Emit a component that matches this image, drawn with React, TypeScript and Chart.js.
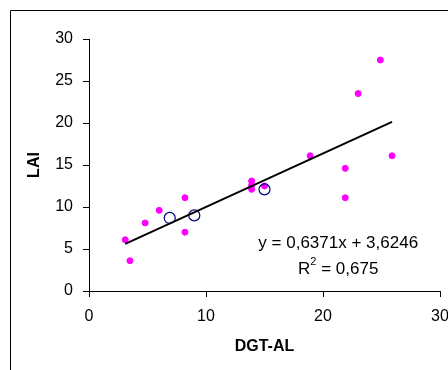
import React, { useEffect, useRef } from "react";
import { Chart, registerables } from "chart.js";

Chart.register(...registerables);

const measuredX = [3.1, 3.5, 4.8, 6.0, 8.2, 8.2, 13.9, 13.9, 13.9, 15.0, 18.9, 21.9, 21.9, 23.0, 24.9, 25.9];
const measuredY = [6.1, 3.6, 8.1, 9.6, 11.1, 7.0, 13.1, 12.6, 12.1, 12.5, 16.1, 14.6, 11.1, 23.5, 27.5, 16.1];
const openX = [6.9, 9.0, 15.0];
const openY = [8.7, 9.0, 12.1];
const slope = 0.6371;
const intercept = 3.6246;
const trendRange = [3.1, 25.9];
const xTicks = [0, 10, 20, 30];
const yTicks = [0, 5, 10, 15, 20, 25, 30];
const equationText = "y = 0,6371x + 3,6246";
const r2Text = "0,675";

const FONT = "'Liberation Sans', Arial, sans-serif";

const framePlugin = {
  id: "frame",
  beforeDraw(chart: any) {
    const ctx = chart.ctx;
    ctx.save();
    ctx.fillStyle = "#ffffff";
    ctx.fillRect(0, 0, chart.width, chart.height);
    ctx.strokeStyle = "#000000";
    ctx.lineWidth = 1;
    ctx.beginPath();
    ctx.moveTo(10.5, chart.height + 2);
    ctx.lineTo(10.5, 10.5);
    ctx.lineTo(chart.width + 2, 10.5);
    ctx.stroke();
    ctx.restore();
  },
};

const equationPlugin = {
  id: "equation",
  afterDatasetsDraw(chart: any) {
    const ctx = chart.ctx;
    const xs = chart.scales.x;
    const ys = chart.scales.y;
    const cx = xs.getPixelForValue(21.3);
    const y1 = ys.getPixelForValue(5.7);
    const y2 = ys.getPixelForValue(2.6);
    ctx.save();
    ctx.fillStyle = "#000000";
    ctx.textBaseline = "middle";
    ctx.font = `17px ${FONT}`;
    ctx.textAlign = "center";
    ctx.fillText(equationText, cx, y1);
    const rW = ctx.measureText("R").width;
    ctx.font = `11px ${FONT}`;
    const supW = ctx.measureText("2").width;
    ctx.font = `17px ${FONT}`;
    const rest = " = " + r2Text;
    const restW = ctx.measureText(rest).width;
    const total = rW + supW + restW;
    let x = cx - total / 2;
    ctx.textAlign = "left";
    ctx.fillText("R", x, y2);
    x += rW;
    ctx.font = `11px ${FONT}`;
    ctx.fillText("2", x, y2 - 7);
    x += supW;
    ctx.font = `17px ${FONT}`;
    ctx.fillText(rest, x, y2);
    ctx.restore();
  },
};

export default function App() {
  const ref = useRef<HTMLCanvasElement | null>(null);

  useEffect(() => {
    if (!ref.current) return;
    Chart.defaults.font.family = FONT;
    Chart.defaults.color = "#000000";
    const chart = new Chart(ref.current, {
      type: "scatter",
      data: {
        datasets: [
          {
            label: "measured",
            data: measuredX.map((x, i) => ({ x, y: measuredY[i] })),
            pointRadius: 3,
            pointBackgroundColor: "#ff00ff",
            pointBorderColor: "#ff00ff",
            pointBorderWidth: 1,
            showLine: false,
            order: 2,
          },
          {
            label: "open",
            data: openX.map((x, i) => ({ x, y: openY[i] })),
            pointRadius: 5.5,
            pointBackgroundColor: "rgba(0,0,0,0)",
            pointBorderColor: "#000080",
            pointBorderWidth: 1.2,
            showLine: false,
            order: 1,
          },
          {
            label: "trend",
            data: trendRange.map((x) => ({ x, y: slope * x + intercept })),
            showLine: true,
            borderColor: "#000000",
            borderWidth: 2,
            pointRadius: 0,
            order: 0,
          },
        ],
      },
      options: {
        responsive: false,
        animation: false,
        layout: { padding: { top: 39, right: 8, bottom: 0, left: 0 } },
        plugins: { legend: { display: false }, tooltip: { enabled: false } },
        scales: {
          x: {
            type: "linear",
            min: 0,
            max: 30,
            afterBuildTicks: (s: any) => {
              s.ticks = xTicks.map((v) => ({ value: v }));
            },
            afterFit: (s: any) => {
              s.height = 79;
              s.paddingLeft = 0;
              s.paddingRight = 0;
            },
            ticks: {
              padding: 10,
              maxRotation: 0,
              autoSkip: false,
              font: { size: 16 },
              color: "#000000",
            },
            grid: {
              drawOnChartArea: false,
              drawTicks: true,
              tickLength: 6,
              color: "#000000",
            },
            border: { display: true, color: "#000000", width: 1 },
            title: {
              display: true,
              text: "DGT-AL",
              font: { size: 16, weight: "bold" },
              color: "#000000",
              padding: { top: 0, bottom: 14 },
            },
          },
          y: {
            type: "linear",
            min: 0,
            max: 30,
            afterBuildTicks: (s: any) => {
              s.ticks = yTicks.map((v) => ({ value: v }));
            },
            afterFit: (s: any) => {
              s.width = 89;
              s.paddingTop = 0;
              s.paddingBottom = 0;
            },
            ticks: {
              padding: 10,
              autoSkip: false,
              font: { size: 16 },
              color: "#000000",
            },
            grid: {
              drawOnChartArea: false,
              drawTicks: true,
              tickLength: 6,
              color: "#000000",
            },
            border: { display: true, color: "#000000", width: 1 },
            title: {
              display: true,
              text: "LAI",
              font: { size: 16, weight: "bold" },
              color: "#000000",
              padding: { top: 25, bottom: 0 },
            },
          },
        },
      },
      plugins: [framePlugin, equationPlugin],
    } as any);
    return () => chart.destroy();
  }, []);

  return (
    <div style={{ position: "fixed", left: 0, top: 0, width: 448, height: 370 }}>
      <canvas ref={ref} width={448} height={370} style={{ display: "block" }} />
    </div>
  );
}
